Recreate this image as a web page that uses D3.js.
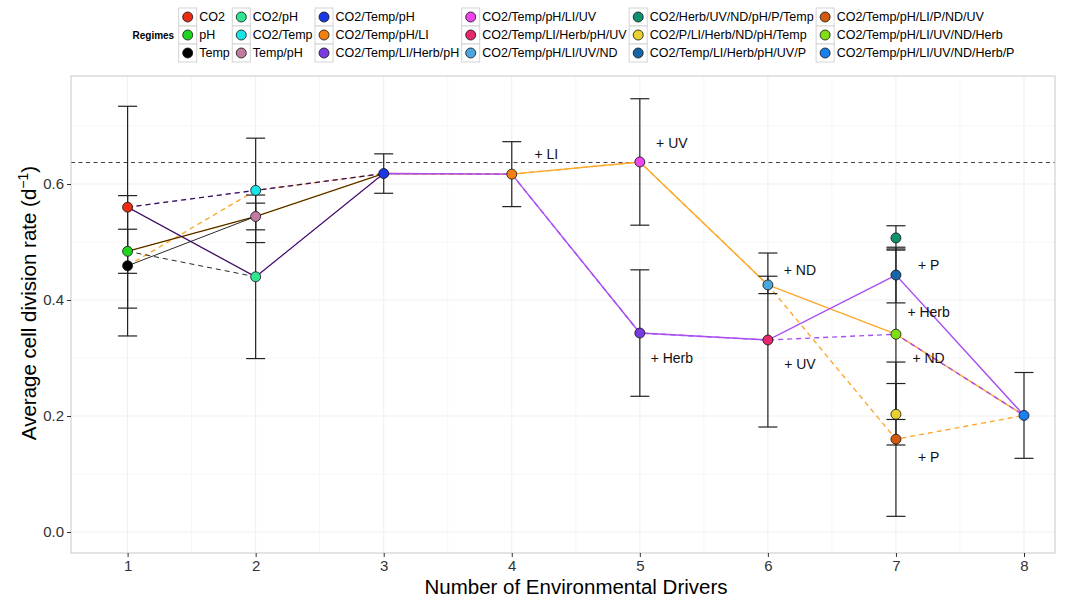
<!DOCTYPE html>
<html>
<head>
<meta charset="utf-8">
<script src="https://cdn.jsdelivr.net/npm/d3@7"></script>
<style>
  body { margin: 0; background: #fff; }
  text { font-family: "Liberation Sans", Arial, sans-serif; }
</style>
</head>
<body>
<div id="chart"></div>
<script>
// regimes in legend order
const regimes = [
  "CO2", "pH", "Temp",
  "CO2/pH", "CO2/Temp", "Temp/pH",
  "CO2/Temp/pH", "CO2/Temp/pH/LI", "CO2/Temp/LI/Herb/pH",
  "CO2/Temp/pH/LI/UV", "CO2/Temp/LI/Herb/pH/UV", "CO2/Temp/pH/LI/UV/ND",
  "CO2/Herb/UV/ND/pH/P/Temp", "CO2/P/LI/Herb/ND/pH/Temp", "CO2/Temp/LI/Herb/pH/UV/P",
  "CO2/Temp/pH/LI/P/ND/UV", "CO2/Temp/pH/LI/UV/ND/Herb", "CO2/Temp/pH/LI/UV/ND/Herb/P"
];
const drivers = [1, 1, 1, 2, 2, 2, 3, 4, 5, 5, 6, 6, 7, 7, 7, 7, 7, 8];
const rates   = [0.560, 0.484, 0.459, 0.440, 0.589, 0.544, 0.618, 0.617, 0.343, 0.638,
                 0.331, 0.426, 0.507, 0.203, 0.443, 0.160, 0.341, 0.201];
const errors  = [0.174, 0.038, 0.121, 0.141, 0.090, 0.023, 0.034, 0.056, 0.109, 0.109,
                 0.150, 0.015, 0.021, 0.053, 0.048, 0.133, 0.147, 0.074];
const palette = ["#ee2a12", "#1fd51f", "#000000", "#2ee592", "#16e6ea", "#c27ba0",
                 "#1a38e3", "#f5800f", "#7a3ae2", "#ee45ec", "#e6286c", "#4aa6df",
                 "#11906f", "#e8d230", "#1665a8", "#d25a0e", "#7edf14", "#1a7ff0"];

// pathways through the regimes
const orangeSolid = ["pH", "Temp/pH", "CO2/Temp/pH", "CO2/Temp/pH/LI", "CO2/Temp/pH/LI/UV",
  "CO2/Temp/pH/LI/UV/ND", "CO2/Temp/pH/LI/UV/ND/Herb", "CO2/Temp/pH/LI/UV/ND/Herb/P"];
const orangeDashed = ["Temp", "CO2/Temp", "CO2/Temp/pH", "CO2/Temp/pH/LI", "CO2/Temp/pH/LI/UV",
  "CO2/Temp/pH/LI/UV/ND", "CO2/Temp/pH/LI/P/ND/UV", "CO2/Temp/pH/LI/UV/ND/Herb/P"];
const purpleSolid = ["CO2", "CO2/pH", "CO2/Temp/pH", "CO2/Temp/pH/LI", "CO2/Temp/LI/Herb/pH",
  "CO2/Temp/LI/Herb/pH/UV", "CO2/Temp/LI/Herb/pH/UV/P", "CO2/Temp/pH/LI/UV/ND/Herb/P"];
const purpleDashed = ["CO2", "CO2/Temp", "CO2/Temp/pH", "CO2/Temp/pH/LI", "CO2/Temp/LI/Herb/pH",
  "CO2/Temp/LI/Herb/pH/UV", "CO2/Temp/pH/LI/UV/ND/Herb", "CO2/Temp/pH/LI/UV/ND/Herb/P"];
const blackSolid = [["Temp", "Temp/pH", "CO2/Temp/pH"], ["pH", "Temp/pH"], ["CO2", "CO2/pH", "CO2/Temp/pH"]];
const blackDashed = [["pH", "CO2/pH"], ["CO2", "CO2/Temp", "CO2/Temp/pH"]];

const refRate = 0.637;

const annoText = ["+ LI", "+ UV", "+ Herb", "+ ND", "+ UV", "+ P", "+ Herb", "+ ND", "+ P"];
const annoX = [4.27, 5.25, 5.25, 6.25, 6.25, 7.255, 7.255, 7.255, 7.255];
const annoY = [0.652, 0.671, 0.300, 0.451, 0.289, 0.460, 0.380, 0.300, 0.129];

const xTicks = [1, 2, 3, 4, 5, 6, 7, 8];
const yTicks = [0.0, 0.2, 0.4, 0.6];

// chart space
const width = 1070, height = 599;
const panel = {left: 71, right: 1055, top: 76, bottom: 553};

const svg = d3.create("svg").attr("width", width).attr("height", height);
document.getElementById("chart").appendChild(svg.node());

const xScale = d3.scaleLinear().domain([1, 8]).range([127.6, 1024]);
const yScale = d3.scaleLinear().domain([0, 0.6]).range([532, 184]);
const color = d3.scaleOrdinal().domain(regimes).range(palette);

const data = regimes.map((r, i) => ({regime: r, x: drivers[i], y: rates[i], e: errors[i]}));
const byName = new Map(data.map(d => [d.regime, d]));

// grid
const grid = svg.append("g");
grid.selectAll(".yminor").data(d3.range(0.1, 0.8, 0.2)).join("line")
  .attr("x1", panel.left).attr("x2", panel.right)
  .attr("y1", d => yScale(d)).attr("y2", d => yScale(d))
  .attr("stroke", "#f6f6f6").attr("stroke-width", 1);
grid.selectAll(".xminor").data(d3.range(1.5, 8, 1)).join("line")
  .attr("y1", panel.top).attr("y2", panel.bottom)
  .attr("x1", d => xScale(d)).attr("x2", d => xScale(d))
  .attr("stroke", "#f6f6f6").attr("stroke-width", 1);
grid.selectAll(".ymajor").data(yTicks).join("line")
  .attr("x1", panel.left).attr("x2", panel.right)
  .attr("y1", d => yScale(d)).attr("y2", d => yScale(d))
  .attr("stroke", "#efefef").attr("stroke-width", 1);
grid.selectAll(".xmajor").data(xTicks).join("line")
  .attr("y1", panel.top).attr("y2", panel.bottom)
  .attr("x1", d => xScale(d)).attr("x2", d => xScale(d))
  .attr("stroke", "#efefef").attr("stroke-width", 1);

// reference line
svg.append("line")
  .attr("x1", panel.left).attr("x2", panel.right)
  .attr("y1", yScale(refRate)).attr("y2", yScale(refRate))
  .attr("stroke", "#444").attr("stroke-width", 1.1)
  .attr("stroke-dasharray", "4,3.5");

// pathway lines
const line = d3.line().x(d => xScale(d.x)).y(d => yScale(d.y));
const drawPath = (names, stroke, w, dash) => {
  svg.append("path")
    .attr("d", line(names.map(n => byName.get(n))))
    .attr("fill", "none")
    .attr("stroke", stroke)
    .attr("stroke-width", w)
    .attr("stroke-dasharray", dash);
};
drawPath(orangeDashed, "#fbaa2e", 1.4, "5,4");
drawPath(orangeSolid, "#fbaa2e", 1.4, null);
drawPath(purpleSolid, "#a94ef2", 1.4, null);
drawPath(purpleDashed, "#a94ef2", 1.4, "5,4");
blackSolid.forEach(p => drawPath(p, "#111", 0.9, null));
blackDashed.forEach(p => drawPath(p, "#111", 0.9, "5,4"));

// error bars
const capW = 9.5;
const eb = svg.append("g").attr("stroke", "#222").attr("stroke-width", 1.2).attr("fill", "none");
eb.selectAll(".v").data(data).join("line")
  .attr("x1", d => xScale(d.x)).attr("x2", d => xScale(d.x))
  .attr("y1", d => yScale(d.y + d.e)).attr("y2", d => yScale(d.y - d.e));
eb.selectAll(".top").data(data).join("line")
  .attr("x1", d => xScale(d.x) - capW).attr("x2", d => xScale(d.x) + capW)
  .attr("y1", d => yScale(d.y + d.e)).attr("y2", d => yScale(d.y + d.e));
eb.selectAll(".bot").data(data).join("line")
  .attr("x1", d => xScale(d.x) - capW).attr("x2", d => xScale(d.x) + capW)
  .attr("y1", d => yScale(d.y - d.e)).attr("y2", d => yScale(d.y - d.e));

// points
svg.append("g").selectAll("circle").data(data).join("circle")
  .attr("cx", d => xScale(d.x)).attr("cy", d => yScale(d.y))
  .attr("r", 5)
  .attr("fill", d => color(d.regime))
  .attr("stroke", "#111").attr("stroke-width", 0.8);

// annotations
svg.append("g").selectAll("text").data(annoText).join("text")
  .attr("x", (d, i) => xScale(annoX[i]))
  .attr("y", (d, i) => yScale(annoY[i]))
  .attr("dy", "0.35em")
  .attr("text-anchor", "middle")
  .attr("font-size", 14)
  .attr("fill", "#111")
  .text(d => d);

// panel border
svg.append("rect")
  .attr("x", panel.left).attr("y", panel.top)
  .attr("width", panel.right - panel.left).attr("height", panel.bottom - panel.top)
  .attr("fill", "none").attr("stroke", "#c8c8c8").attr("stroke-width", 1);

// axes
const xAxis = svg.append("g")
  .attr("transform", `translate(0, ${panel.bottom})`)
  .call(d3.axisBottom(xScale).tickValues(xTicks).tickSize(4).tickPadding(3).tickFormat(d3.format("d")));
const yAxis = svg.append("g")
  .attr("transform", `translate(${panel.left}, 0)`)
  .call(d3.axisLeft(yScale).tickValues(yTicks).tickSize(4).tickPadding(3).tickFormat(d3.format(".1f")));
[xAxis, yAxis].forEach(a => {
  a.select(".domain").remove();
  a.selectAll(".tick line").attr("stroke", "#333");
  a.selectAll(".tick text").attr("font-size", 15).attr("fill", "#333")
    .attr("font-family", "Liberation Sans, Arial, sans-serif");
});

svg.append("text")
  .attr("x", 576).attr("y", 594)
  .attr("text-anchor", "middle")
  .attr("font-size", 20.5)
  .attr("fill", "#000")
  .text("Number of Environmental Drivers");

const yTitle = svg.append("text")
  .attr("transform", "translate(36, 303) rotate(-90)")
  .attr("text-anchor", "middle")
  .attr("font-size", 20.5)
  .attr("fill", "#000");
yTitle.append("tspan").text("Average cell division rate (d");
yTitle.append("tspan").attr("font-size", 14).attr("dy", -8).text("\u22121");
yTitle.append("tspan").attr("dy", 8).text(")");

// legend
const legend = svg.append("g");
legend.append("text")
  .attr("x", 132.5).attr("y", 35.5).attr("dy", "0.35em")
  .attr("font-size", 10).attr("font-weight", "bold")
  .text("Regimes");
const keySize = 18, rowTop = 8;
let colX = 178.7;
for (let c = 0; c < 6; c++) {
  let maxW = 0;
  for (let r = 0; r < 3; r++) {
    const name = regimes[c * 3 + r];
    const y0 = rowTop + r * keySize;
    legend.append("rect")
      .attr("x", colX).attr("y", y0).attr("width", keySize).attr("height", keySize)
      .attr("fill", "#fff").attr("stroke", "#d4d4d4").attr("stroke-width", 1);
    legend.append("circle")
      .attr("cx", colX + keySize / 2).attr("cy", y0 + keySize / 2).attr("r", 5)
      .attr("fill", color(name)).attr("stroke", "#111").attr("stroke-width", 0.8);
    const t = legend.append("text")
      .attr("x", colX + keySize + 2.5).attr("y", y0 + keySize / 2).attr("dy", "0.35em")
      .attr("font-size", 12.5).attr("fill", "#000")
      .text(name);
    maxW = Math.max(maxW, t.node().getComputedTextLength());
  }
  colX = colX + keySize + 2.5 + maxW + 2.5;
}
</script>
</body>
</html>
